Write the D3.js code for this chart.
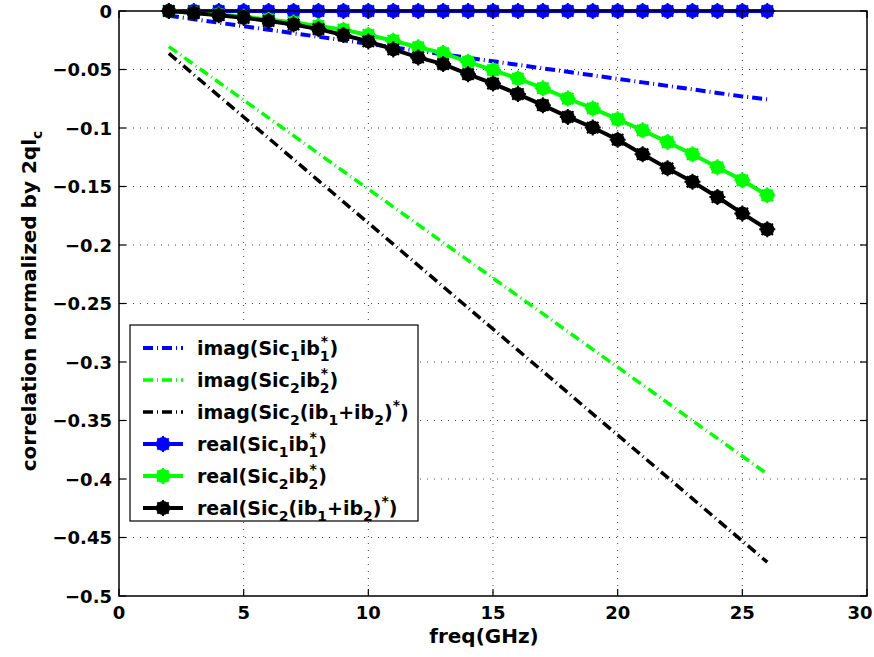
<!DOCTYPE html>
<html><head><meta charset="utf-8">
<script src="https://cdn.jsdelivr.net/npm/d3@7"></script>
<style>body{margin:0;background:#fff}</style>
</head><body><svg id="c" width="874" height="657"></svg>
<script>
const freq = [2,3,4,5,6,7,8,9,10,11,12,13,14,15,16,17,18,19,20,21,22,23,24,25,26];
const imagS1 = [-0.004,-0.007,-0.010,-0.013,-0.016,-0.019,-0.022,-0.025,-0.028,-0.031,-0.034,-0.037,-0.040,-0.043,-0.046,-0.049,-0.052,-0.055,-0.058,-0.061,-0.064,-0.067,-0.070,-0.073,-0.0755];
const imagS2 = [-0.0304,-0.0457,-0.0609,-0.0761,-0.0913,-0.1065,-0.1218,-0.137,-0.1522,-0.1674,-0.1826,-0.1979,-0.2131,-0.2283,-0.2435,-0.2587,-0.274,-0.2892,-0.3044,-0.3196,-0.3348,-0.3501,-0.3653,-0.3805,-0.3957];
const imagS12 = [-0.0362,-0.0544,-0.0725,-0.0906,-0.1087,-0.1268,-0.145,-0.1631,-0.1812,-0.1993,-0.2174,-0.2356,-0.2537,-0.2718,-0.2899,-0.308,-0.3262,-0.3443,-0.3624,-0.3805,-0.3986,-0.4168,-0.4349,-0.453,-0.4711];
const realS1 = [0,0,0,0,0,0,0,0,0,0,0,0,0,0,0,0,0,0,0,0,0,0,0,0,0];
const realS2 = [0,-0.0015,-0.003,-0.005,-0.0072,-0.0098,-0.0128,-0.016,-0.0205,-0.0254,-0.031,-0.036,-0.0434,-0.0505,-0.0577,-0.066,-0.0748,-0.0833,-0.0925,-0.102,-0.112,-0.1224,-0.1336,-0.1447,-0.1575];
const realS12 = [0,-0.0018,-0.0036,-0.0058,-0.0085,-0.0115,-0.0155,-0.0205,-0.026,-0.0328,-0.0397,-0.0454,-0.054,-0.062,-0.071,-0.0805,-0.0905,-0.0996,-0.110,-0.1224,-0.1345,-0.146,-0.159,-0.173,-0.1866];
const xTicks = [0,5,10,15,20,25,30];
const xTickLabels = ["0","5","10","15","20","25","30"];
const yTicks = [0,-0.05,-0.1,-0.15,-0.2,-0.25,-0.3,-0.35,-0.4,-0.45,-0.5];
const yTickLabels = ["0","\u22120.05","\u22120.1","\u22120.15","\u22120.2","\u22120.25","\u22120.3","\u22120.35","\u22120.4","\u22120.45","\u22120.5"];
const seriesColors = ["#0000ff","#00ff00","#000000"];

const FF = "'DejaVu Sans', 'Liberation Sans', Arial, sans-serif";
const W = 874, H = 657;
const m = {l:119, t:11, r:7, b:61};
const svg = d3.select("#c");
const x = d3.scaleLinear().domain([0,30]).range([m.l, W-m.r]);
const y = d3.scaleLinear().domain([-0.5,0]).range([H-m.b, m.t]);

// grid
const g = svg.append("g");
g.selectAll(".gx").data(xTicks.slice(1,-1)).enter().append("line")
  .attr("x1",d=>x(d)).attr("x2",d=>x(d)).attr("y1",y(0)).attr("y2",y(-0.5))
  .attr("stroke","#444").attr("stroke-width",1).attr("stroke-dasharray","1,6");
g.selectAll(".gy").data(yTicks.slice(1,-1)).enter().append("line")
  .attr("y1",d=>y(d)).attr("y2",d=>y(d)).attr("x1",x(0)).attr("x2",x(30))
  .attr("stroke","#444").attr("stroke-width",1).attr("stroke-dasharray","1,6");

const DASH = "10,4,1,4";
const line = d3.line().x(d=>x(d[0])).y(d=>y(d[1]));
const imagSeries = [imagS1, imagS2, imagS12];
const realSeries = [realS1, realS2, realS12];
function marker(sel, cx, cy, c){
  sel.append("circle").attr("cx",cx).attr("cy",cy).attr("r",7).attr("fill",c);
  const R = 8, a = R*Math.SQRT1_2;
  const d = `M${-R},0L${R},0M0,${-R}L0,${R}M${-a},${-a}L${a},${a}M${-a},${a}L${a},${-a}`;
  sel.append("path").attr("d",d).attr("transform",`translate(${cx},${cy})`)
    .attr("stroke",c).attr("stroke-width",2).attr("fill","none");
}
imagSeries.forEach((s,i)=>{
  svg.append("path").datum(freq.map((f,k)=>[f,s[k]])).attr("d",line)
    .attr("fill","none").attr("stroke",seriesColors[i]).attr("stroke-width",i===0?4:3.5)
    .attr("stroke-dasharray",DASH);
});
realSeries.forEach((s,i)=>{
  const pts = freq.map((f,k)=>[f,s[k]]);
  svg.append("path").datum(pts).attr("d",line)
    .attr("fill","none").attr("stroke",seriesColors[i]).attr("stroke-width",4);
  const mg = svg.append("g");
  pts.forEach(p=>marker(mg, x(p[0]), y(p[1]), seriesColors[i]));
});

// axes box
const ax = svg.append("g");
ax.append("rect").attr("x",x(0)).attr("y",y(0)).attr("width",x(30)-x(0)).attr("height",y(-0.5)-y(0))
  .attr("fill","none").attr("stroke","#000").attr("stroke-width",1.5);
const TL = 7;
xTicks.forEach(t=>{
  ax.append("line").attr("x1",x(t)).attr("x2",x(t)).attr("y1",y(-0.5)).attr("y2",y(-0.5)-TL).attr("stroke","#000").attr("stroke-width",1.2);
  ax.append("line").attr("x1",x(t)).attr("x2",x(t)).attr("y1",y(0)).attr("y2",y(0)+TL).attr("stroke","#000").attr("stroke-width",1.2);
});
yTicks.forEach(t=>{
  ax.append("line").attr("y1",y(t)).attr("y2",y(t)).attr("x1",x(0)).attr("x2",x(0)+TL).attr("stroke","#000").attr("stroke-width",1.2);
  ax.append("line").attr("y1",y(t)).attr("y2",y(t)).attr("x1",x(30)).attr("x2",x(30)-TL).attr("stroke","#000").attr("stroke-width",1.2);
});
const TFS = 18;
ax.selectAll(".xl").data(xTicks).enter().append("text")
  .attr("x",(d)=>Math.min(x(d), W - 14)).attr("y",y(-0.5)+23).attr("text-anchor","middle")
  .attr("font-family",FF).attr("font-weight","bold").attr("font-size",TFS)
  .text((d,i)=>xTickLabels[i]);
ax.selectAll(".yl").data(yTicks).enter().append("text")
  .attr("x",x(0)-7).attr("y",d=>y(d)+6.5).attr("text-anchor","end")
  .attr("font-family",FF).attr("font-weight","bold").attr("font-size",TFS)
  .text((d,i)=>yTickLabels[i]);

// rich text helper
const meas = svg.append("text").attr("visibility","hidden").attr("font-family",FF).attr("font-weight","bold");
function tw(s, size){ meas.attr("font-size",size).text(s); return meas.node().getComputedTextLength(); }
function rich(parent, x0, y0, parts, fs, center){
  const sfs = Math.round(fs*0.72);
  let total = 0;
  parts.forEach(p=>{
    if (p[1]==="n") total += tw(p[0],fs);
    else if (p[1]==="subsup") total += Math.max(tw(p[0],sfs), tw(p[2],sfs));
    else total += tw(p[0],sfs);
  });
  let cx = center ? x0 - total/2 : x0;
  const add = (t,xx,yy,size)=>parent.append("text").attr("x",xx).attr("y",yy)
    .attr("font-family",FF).attr("font-weight","bold").attr("font-size",size).text(t);
  parts.forEach(p=>{
    if (p[1]==="n"){ add(p[0],cx,y0,fs); cx += tw(p[0],fs); }
    else if (p[1]==="sub"){ add(p[0],cx,y0+6,sfs); cx += tw(p[0],sfs); }
    else if (p[1]==="sup"){ add(p[0],cx,y0-9,sfs); cx += tw(p[0],sfs); }
    else { add(p[0],cx,y0+6,sfs); add(p[2],cx+1,y0-9,sfs); cx += Math.max(tw(p[0],sfs),tw(p[2],sfs)); }
  });
}

// axis labels
rich(svg, 484, 643, [["freq(GHz)","n"]], 20, true);
const yl = svg.append("g").attr("transform","translate(36,301) rotate(-90)");
rich(yl, 0, 0, [["correlation normalized by 2ql","n"],["c","sub"]], 20, true);

// legend
const legendLabels = [
  [["imag(Sic","n"],["1","sub"],["ib","n"],["1","subsup","*"],[")","n"]],
  [["imag(Sic","n"],["2","sub"],["ib","n"],["2","subsup","*"],[")","n"]],
  [["imag(Sic","n"],["2","sub"],["(ib","n"],["1","sub"],["+ib","n"],["2","sub"],[")","n"],["*","sup"],[")","n"]],
  [["real(Sic","n"],["1","sub"],["ib","n"],["1","subsup","*"],[")","n"]],
  [["real(Sic","n"],["2","sub"],["ib","n"],["2","subsup","*"],[")","n"]],
  [["real(Sic","n"],["2","sub"],["(ib","n"],["1","sub"],["+ib","n"],["2","sub"],[")","n"],["*","sup"],[")","n"]]
];
const lg = svg.append("g");
lg.append("rect").attr("x",130).attr("y",325).attr("width",288).attr("height",196)
  .attr("fill","#fff").attr("stroke","#000").attr("stroke-width",1.2);
legendLabels.forEach((lab,i)=>{
  const yy = 348 + i*32;
  const c = seriesColors[i%3];
  const isReal = i>=3;
  lg.append("line").attr("x1",143).attr("x2",183).attr("y1",yy).attr("y2",yy)
    .attr("stroke",c).attr("stroke-width",isReal?4:(i===0?4:3.5))
    .attr("stroke-dasharray",isReal?null:DASH);
  if (isReal) marker(lg, 163, yy, c);
  rich(lg, 197, yy+7, lab, 19, false);
});
</script></body></html>
